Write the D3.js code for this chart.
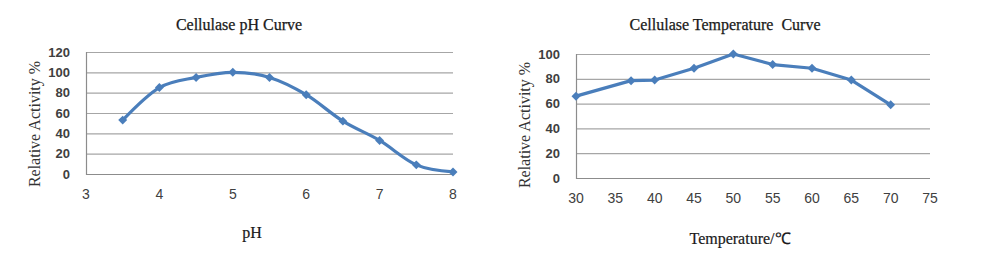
<!DOCTYPE html>
<html><head><meta charset="utf-8">
<script src="https://cdn.jsdelivr.net/npm/d3@7"></script>
<style>body{margin:0;background:#fff}svg{display:block}</style>
</head><body>
<svg id="c" width="1000" height="260"></svg>
<script>
// pH chart data
const phValues = [3.5, 4, 4.5, 5, 5.5, 6, 6.5, 7, 7.5, 8];
const phActivity = [53, 85, 95, 100, 95, 78, 52, 33, 9, 2];
const phXTicks = [3, 4, 5, 6, 7, 8];
const phYTicks = [0, 20, 40, 60, 80, 100, 120];
// Temperature chart data
const tempValues = [30, 37, 40, 45, 50, 55, 60, 65, 70];
const tempActivity = [66, 78.5, 79, 88.5, 100, 91.5, 88.5, 79, 59];
const tempXTicks = [30, 35, 40, 45, 50, 55, 60, 65, 70, 75];
const tempYTicks = [0, 20, 40, 60, 80, 100];

const svg = d3.select("#c");
const blue = "#4a7ebb";
const serif = "'Liberation Serif', 'Times New Roman', serif";
const sans = "'Liberation Sans', Arial, sans-serif";

function chart(o) {
  const x = d3.scaleLinear().domain(o.xDomain).range([o.x0, o.x1]);
  const y = d3.scaleLinear().domain(o.yDomain).range([o.y0, o.y1]);
  const g = svg.append("g");
  // gridlines
  g.selectAll(".grid").data(o.yTicks).join("line")
    .attr("x1", o.x0).attr("x2", o.x1)
    .attr("y1", d => y(d) + 0.5).attr("y2", d => y(d) + 0.5)
    .attr("stroke", d => d === 0 ? "#8c8c8c" : "#a6a6a6").attr("stroke-width", 1.2);
  // vertical axis line
  g.append("line").attr("x1", o.x0 + 0.5).attr("x2", o.x0 + 0.5)
    .attr("y1", y(o.yDomain[1])).attr("y2", y(0)+1)
    .attr("stroke", "#8c8c8c").attr("stroke-width", 1.2);
  // y tick labels
  g.selectAll(".yt").data(o.yTicks).join("text")
    .attr("x", o.x0 - 16).attr("y", d => y(d)).attr("dy", "0.35em")
    .attr("text-anchor", "end").attr("font-family", sans).attr("font-size", 13)
    .attr("font-weight", "bold").attr("fill", "#404040").text(d => d);
  // x tick labels
  g.selectAll(".xt").data(o.xTicks).join("text")
    .attr("x", d => x(d)).attr("y", o.xLabelY).attr("dy", "0.35em")
    .attr("text-anchor", "middle").attr("font-family", sans).attr("font-size", 14)
    .attr("fill", "#404040").text(d => d);
  // line
  const pts = o.xs.map((v, i) => [v, o.ys[i]]);
  const line = d3.line().x(d => x(d[0])).y(d => y(d[1])).curve(o.curve);
  g.append("path").attr("d", line(pts)).attr("fill", "none")
    .attr("stroke", blue).attr("stroke-width", 3.2).attr("stroke-linejoin", "round");
  // markers
  const sym = d3.symbol(d3.symbolSquare).size(40);
  g.selectAll(".m").data(pts).join("path")
    .attr("d", sym).attr("fill", blue)
    .attr("transform", d => `translate(${x(d[0])},${y(d[1])}) rotate(45)`);
  // title
  g.append("text").attr("x", o.titleX).attr("y", 30).attr("text-anchor", "middle")
    .attr("font-family", serif).attr("font-size", 16).attr("fill", "#1a1a1a")
    .attr("stroke", "#1a1a1a").attr("stroke-width", 0.25)
    .attr("xml:space","preserve").text(o.title);
  // y title
  g.append("text").attr("transform", `translate(${o.yTitleX},${o.yTitleY}) rotate(-90)`)
    .attr("text-anchor", "middle").attr("font-family", serif).attr("font-size", 16)
    .attr("fill", "#333").text("Relative Activity %");
  // x title
  g.append("text").attr("x", o.xTitleX).attr("y", o.xTitleY).attr("text-anchor", "middle")
    .attr("font-family", serif).attr("font-size", 16).attr("fill", "#1a1a1a")
    .attr("stroke", "#1a1a1a").attr("stroke-width", 0.2).text(o.xTitle);
}

chart({
  xDomain: [3, 8], yDomain: [0, 120], x0: 86, x1: 453, y0: 174, y1: 52,
  xs: phValues, ys: phActivity, xTicks: phXTicks, yTicks: phYTicks,
  curve: d3.curveCardinal.tension(0), xLabelY: 194,
  title: "Cellulase pH Curve", titleX: 239,
  yTitleX: 40, yTitleY: 124, xTitle: "pH", xTitleX: 252, xTitleY: 238
});
chart({
  xDomain: [30, 75], yDomain: [0, 100], x0: 576, x1: 930, y0: 178, y1: 54,
  xs: tempValues, ys: tempActivity, xTicks: tempXTicks, yTicks: tempYTicks,
  curve: d3.curveLinear, xLabelY: 198,
  title: "Cellulase Temperature  Curve", titleX: 725,
  yTitleX: 530, yTitleY: 125, xTitle: "Temperature/℃", xTitleX: 740, xTitleY: 244
});
</script>
</body></html>
